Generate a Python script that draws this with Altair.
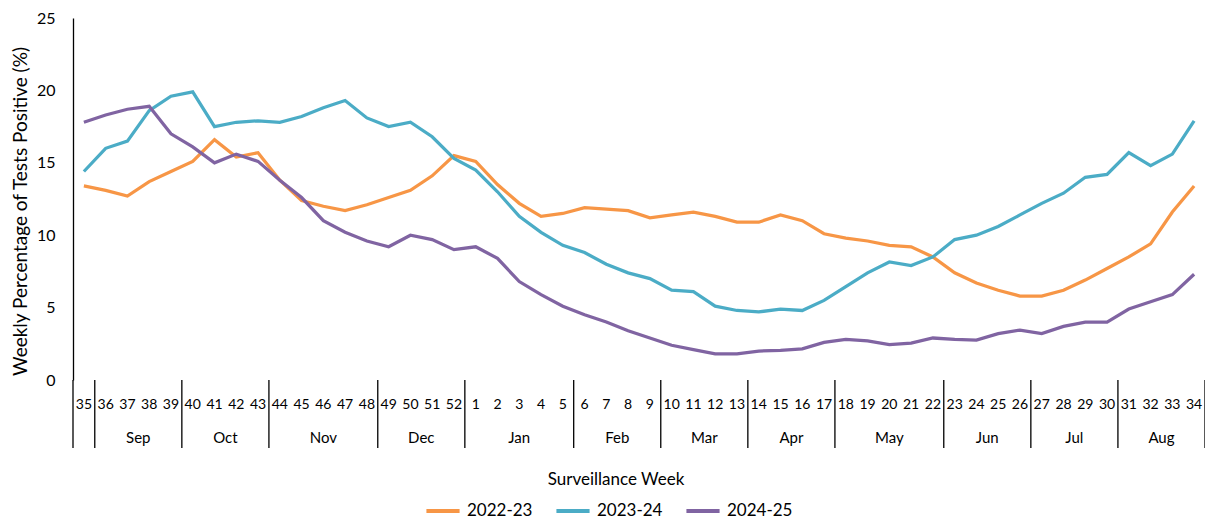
import altair as alt
import pandas as pd

weeks = list(range(35, 53)) + list(range(1, 35))
months = ["", "Sep", "Oct", "Nov", "Dec", "Jan", "Feb", "Mar", "Apr", "May", "Jun", "Jul", "Aug"]
month_weeks = [1, 4, 4, 5, 4, 5, 4, 4, 4, 5, 4, 4, 4]
seasons = ["2022-23", "2023-24", "2024-25"]
colors = ["#F79646", "#4BACC6", "#8064A2"]
x_title = "Surveillance Week"
y_title = "Weekly Percentage of Tests Positive (%)"

s2022 = [13.4, 13.1, 12.7, 13.7, 14.4, 15.1, 16.6, 15.4, 15.7, 13.8, 12.4, 12.0, 11.7, 12.1, 12.6, 13.1, 14.1, 15.5,
         15.1, 13.5, 12.2, 11.3, 11.5, 11.9, 11.8, 11.7, 11.2, 11.4, 11.6, 11.3, 10.9, 10.9, 11.4, 11.0,
         10.1, 9.8, 9.6, 9.3, 9.2, 8.5, 7.4, 6.7, 6.2, 5.8, 5.8, 6.2, 6.9, 7.7, 8.5, 9.4, 11.6, 13.4]
s2023 = [14.4, 16.0, 16.5, 18.6, 19.6, 19.9, 17.5, 17.8, 17.9, 17.8, 18.2, 18.8, 19.3, 18.1, 17.5, 17.8, 16.8, 15.3,
         14.5, 13.0, 11.3, 10.2, 9.3, 8.8, 8.0, 7.4, 7.0, 6.2, 6.1, 5.1, 4.8, 4.7, 4.9, 4.8,
         5.5, 6.45, 7.4, 8.15, 7.9, 8.5, 9.7, 10.0, 10.6, 11.4, 12.2, 12.9, 14.0, 14.2, 15.7, 14.8, 15.6, 17.9]
s2024 = [17.8, 18.3, 18.7, 18.9, 17.0, 16.1, 15.0, 15.6, 15.1, 13.8, 12.6, 11.0, 10.2, 9.6, 9.2, 10.0, 9.7, 9.0,
         9.2, 8.4, 6.8, 5.9, 5.1, 4.5, 4.0, 3.4, 2.9, 2.4, 2.1, 1.8, 1.8, 2.0, 2.05, 2.15,
         2.6, 2.8, 2.7, 2.45, 2.55, 2.9, 2.8, 2.75, 3.2, 3.45, 3.2, 3.7, 4.0, 4.0, 4.9, 5.4, 5.9, 7.3]

FONT = "Lato"
PLOT_W = 1132
PLOT_H = 362

rows = []
for season, vals in zip(seasons, [s2022, s2023, s2024]):
    for i, (w, v) in enumerate(zip(weeks, vals)):
        rows.append({"idx": i, "week": str(w), "season": season, "value": v})
df = pd.DataFrame(rows)

week_df = pd.DataFrame({"idx": list(range(len(weeks))), "week": [str(w) for w in weeks]})

starts = []
s = 0
for n in month_weeks:
    starts.append(s)
    s += n
month_df = pd.DataFrame({
    "month": months,
    "mid": [st + (n - 1) / 2 for st, n in zip(starts, month_weeks)],
})
bound_df = pd.DataFrame({"b": [st - 0.5 for st in starts] + [len(weeks) - 0.5]})

xscale = alt.Scale(domain=[-0.5, len(weeks) - 0.5], nice=False, zero=False)

lines = alt.Chart(df).mark_line(strokeWidth=3.25).encode(
    x=alt.X("idx:Q", scale=xscale,
            axis=alt.Axis(labels=False, ticks=False, grid=False, domainColor="black", domainWidth=1.3,
                          title=None)),
    y=alt.Y("value:Q", scale=alt.Scale(domain=[0, 25], nice=False),
            axis=alt.Axis(values=[0, 5, 10, 15, 20, 25], ticks=False, grid=False, domainColor="black",
                          domainWidth=1.3, labelFont=FONT, labelFontSize=16, labelColor="black",
                          labelPadding=18,
                          title=y_title, titleFont=FONT,
                          titleFontSize=19, titleFontWeight="normal", titleColor="black",
                          titleX=-53, titleY=193, titleBaseline="middle", titleAlign="center",
                          titleAngle=270)),
    color=alt.Color("season:N", scale=alt.Scale(domain=seasons, range=colors),
                    legend=alt.Legend(title=None, orient="none", direction="horizontal",
                                      legendX=351, legendY=474, symbolType="stroke",
                                      symbolStrokeWidth=4, symbolSize=1100, labelFont=FONT,
                                      labelFontSize=17, labelColor="black", columnPadding=15,
                                      labelOffset=5)),
)

week_text = alt.Chart(week_df).mark_text(font=FONT, fontSize=14, color="black", baseline="middle").encode(
    x=alt.X("idx:Q", scale=xscale, axis=None),
    y=alt.value(PLOT_H + 25),
    text="week:N",
)

month_text = alt.Chart(month_df).mark_text(font=FONT, fontSize=15, color="black", baseline="middle").encode(
    x=alt.X("mid:Q", scale=xscale, axis=None),
    y=alt.value(PLOT_H + 58),
    text="month:N",
)

seps = alt.Chart(bound_df).mark_rule(color="black", strokeWidth=1.3).encode(
    x=alt.X("b:Q", scale=xscale, axis=None),
    y=alt.value(PLOT_H),
    y2=alt.value(PLOT_H + 68),
)

title_text = alt.Chart(pd.DataFrame({"t": [x_title]})).mark_text(
    font=FONT, fontSize=17, color="black", baseline="middle", align="center").encode(
    x=alt.value(543),
    y=alt.value(PLOT_H + 100),
    text="t:N",
)

chart = alt.layer(lines, seps, week_text, month_text, title_text).properties(
    width=PLOT_W, height=PLOT_H,
    autosize=alt.AutoSizeParams(type="none"),
    padding={"left": 65, "top": 10, "right": 0, "bottom": 141},
).configure_view(stroke=None)

chart.save("out.html", embed_options={"renderer": "svg", "actions": False})
